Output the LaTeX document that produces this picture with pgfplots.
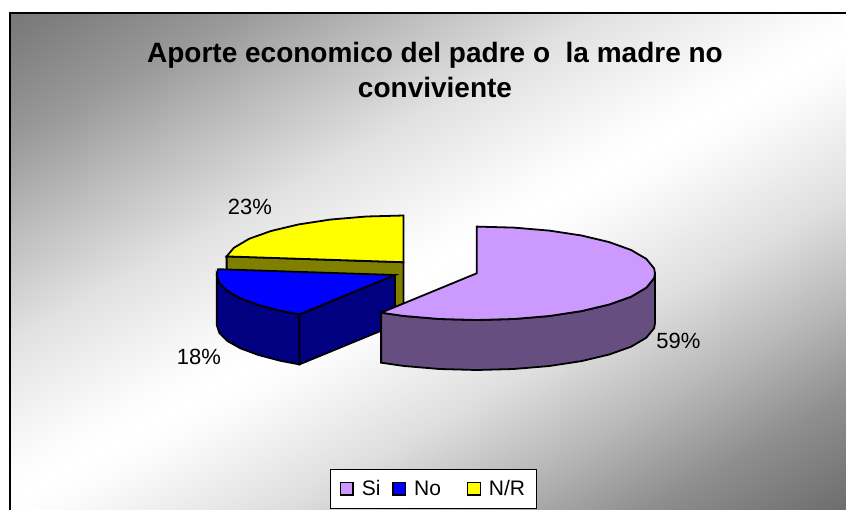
\documentclass[border=0pt]{standalone}
\usepackage{pgfplots}
\pgfplotsset{compat=1.18}
\usepackage{fontspec}
\setmainfont{Liberation Sans}
\definecolor{cSi}{HTML}{CC99FF}
\definecolor{cSiD}{HTML}{664E80}
\definecolor{cNo}{HTML}{0000FF}
\definecolor{cNoD}{HTML}{000080}
\definecolor{cNR}{HTML}{FFFF00}
\definecolor{cNRD}{HTML}{808000}
\begin{document}
\begin{tikzpicture}
\begin{axis}[
  width=846pt,height=510pt,scale only axis,
  xmin=0,xmax=846,ymin=0,ymax=510,y dir=reverse,
  axis lines=none,clip=true,
  colormap={gw}{color(0)=(white) color(1)=(black!59)},
  point meta min=0,point meta max=1,
  legend columns=3,
  legend cell align=left,
  legend style={at={(axis description cs:0.5124,0.0412)},anchor=center,
    draw=black,line width=1pt,fill=white,
    font=\fontsize{21}{25}\selectfont,
    inner xsep=9.5pt,inner ysep=9pt,
    /tikz/column 1/.style={column sep=6pt},
    /tikz/column 2/.style={column sep=10pt},
    /tikz/column 3/.style={column sep=6pt},
    /tikz/column 4/.style={column sep=24pt},
    /tikz/column 5/.style={column sep=6pt}},
  legend image code/.code={\draw[#1,line width=1.3pt] (0pt,-6pt) rectangle (12.5pt,6.5pt);},
]
% diagonal gradient
\addplot[forget plot,surf,shader=interp,mesh/rows=15,mesh/cols=2,point meta=explicit]
 table[x=x,y=y,meta=m] {
x y m
-10 20.5 .9
860 -458 .9
-10 50.5 .86
860 -428 .86
-10 150.5 .68
860 -328 .68
-10 250.5 .43
860 -228 .43
-10 350.5 .2
860 -128 .2
-10 420.5 .1
860 -58 .1
-10 480.5 .02
860 2 .02
-10 510.5 0
860 32 0
-10 540.5 .02
860 62 .02
-10 600.5 .11
860 122 .11
-10 670.5 .22
860 192 .22
-10 770.5 .47
860 292 .47
-10 870.5 .75
860 392 .75
-10 970.5 .95
860 492 .95
-10 1000.5 1
860 522 1
};
% white page margin
\addplot[forget plot,fill=white,draw=none] coordinates {(0,0)(846,0)(846,13)(10,13)(10,510)(0,510)} --cycle;
% chart border
\addplot[forget plot,draw=black,line width=1.6pt] coordinates {(10,510)(10,13)(846,13)};
% N/R side
\addplot[forget plot,fill=cNRD,draw=black,line width=1.8pt] coordinates {
 (226.6,256.4)(403.5,262.2)(403.5,312.2)(226.6,306.4)} --cycle;
% N/R top
\addplot[forget plot,fill=cNR,draw=black,line width=1.8pt] coordinates {
 (403.5,262.2)(403.5,215.5)(366.4,216.5)(330.9,219.5)(298.7,224.4)(271,231)(249.1,238.8)(233.9,247.8)(226.6,256.4)} --cycle;
% No outer side
\addplot[forget plot,fill=cNoD,draw=black,line width=1.8pt] coordinates {
 (299.4,314.4)(280.4,310.8)(258.4,305)(240.6,298.4)(227.4,291)(219.4,283.1)(216.7,275)
 (216.7,325)(219.4,333.1)(227.4,341)(240.6,348.4)(258.4,355)(280.4,360.8)(299.4,364.4)} --cycle;
% No cut side
\addplot[forget plot,fill=cNoD,draw=black,line width=1.8pt] coordinates {
 (299.4,314.4)(395,275)(395,325)(299.4,364.4)} --cycle;
% No top
\addplot[forget plot,fill=cNo,draw=black,line width=1.8pt] coordinates {
 (395,275)(299.4,314.4)(280.4,310.8)(258.4,305)(240.6,298.4)(227.4,291)(219.4,283.1)(216.7,275)(218.1,269.2)} --cycle;
% Si side
\addplot[forget plot,fill=cSiD,draw=black,line width=1.8pt] coordinates {
 (655,273.3)(654.1,278.2)(646.3,287.7)(631.1,296.7)(609.2,304.5)(581.5,311.1)(549.3,316)(513.8,319)(476.7,320)(439.6,319)(404.1,316)(381.1,312.7)
 (381.1,362.7)(404.1,366)(439.6,369)(476.7,370)(513.8,369)(549.3,366)(581.5,361.1)(609.2,354.5)(631.1,346.7)(646.3,337.7)(654.1,328.2)(655,323.3)} --cycle;
% Si top
\addplot[forget plot,fill=cSi,draw=black,line width=1.8pt] coordinates {
 (476.7,273.3)(476.7,226.6)(513.8,227.6)(549.3,230.6)(581.5,235.5)(609.2,242.1)(631.1,250)(646.3,258.9)(654.1,268.4)(655,273.3)
 (654.1,278.2)(646.3,287.7)(631.1,296.7)(609.2,304.5)(581.5,311.1)(549.3,316)(513.8,319)(476.7,320)(439.6,319)(404.1,316)(381.1,312.7)} --cycle;
\addlegendimage{fill=cSi,draw=black}\addlegendentry{Si}
\addlegendimage{fill=cNo,draw=black}\addlegendentry{No}
\addlegendimage{fill=cNR,draw=black}\addlegendentry{N/R}
\node[font=\fontsize{28}{35}\selectfont\bfseries,align=center,anchor=center] at (axis cs:435,70) {Aporte economico del padre o\ \ la madre no\\conviviente};
\node[font=\fontsize{22}{26}\selectfont,anchor=center] at (axis cs:250,207) {23\%};
\node[font=\fontsize{22}{26}\selectfont,anchor=center] at (axis cs:199,357) {18\%};
\node[font=\fontsize{22}{26}\selectfont,anchor=center] at (axis cs:678.5,341) {59\%};
\end{axis}
\end{tikzpicture}
\end{document}
